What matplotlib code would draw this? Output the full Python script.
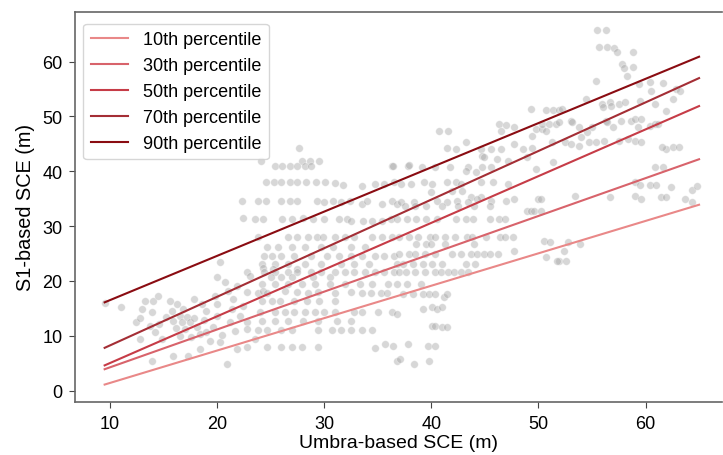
import matplotlib
matplotlib.use("Agg")
import matplotlib.pyplot as plt

plt.rcParams['font.family'] = ['Liberation Sans', 'DejaVu Sans']

# ---- scatter data ----
left_x = [9.5, 11, 12.4, 12.8, 13, 13.3, 13.7, 13.9, 13.9, 14, 14.2, 14.5, 14.9, 15.6, 15.8, 15.9, 15.9,
          16.3, 16.5, 16.7, 17, 17.2, 17.3, 17.5, 17.8, 18.1, 18.4, 18.4, 19, 19, 19.3, 19.6, 20, 20, 20.3,
          20.3, 20.7, 20.9, 21.2, 21.4, 21.5, 21.7, 21.9, 21.9, 22.1, 22.3, 22.4, 22.4, 22.8, 22.8, 22.8,
          22.8, 22.8, 23.1, 23.5, 23.5, 23.8, 16.8, 17.8, 18.8, 15.2, 16.2, 14.6, 19.8, 18.6, 12.8, 21,
          20.5, 16.5, 17.6, 20]
left_y = [16, 15.2, 12.5, 9.4, 14.9, 16.4, 11.8, 14.3, 5.4, 16.4, 10.7, 17.3, 9.4, 16.4, 14.6, 12.7, 6.3,
          15.8, 13.6, 12.5, 11.3, 13.4, 6.3, 12.5, 16.7, 11.6, 10.3, 7.6, 14.6, 10.7, 9.1, 11.6, 13.6, 20.7,
          8.8, 23.4, 19.8, 4.9, 12.5, 14.9, 16.7, 10.9, 19.1, 7.6, 13.6, 34.6, 31.5, 15.5, 18, 12.5, 11.3,
          8, 21.6, 20.9, 9.4, 31.3, 34.6, 14.8, 13.2, 12.8, 13.5, 11.5, 12.2, 17.2, 15.8, 13.2, 18.2,
          10.2, 10, 9.8, 15.8]

mid_x = [27.6, 24.1, 27.9, 28.7, 29.5,
         25.4, 26.1, 26.8, 27.5, 28.2, 28.8, 36.3,
         24.6, 25.3, 26.0, 26.8, 27.5, 28.3, 29.2, 30.1, 31.0, 31.8, 33.5, 34.7, 35.6, 36.5,
         24.6, 26.0, 26.8, 27.5, 29.3, 30.0, 30.8, 31.6, 32.4, 33.5, 34.0, 35.4, 36.3, 36.8,
         24.3, 26.1, 27.0, 28.0, 29.0, 30.0, 31.4, 32.1, 32.5, 33.6, 34.5, 35.4, 36.2,
         23.8, 26.6, 27.5, 28.5, 29.3, 29.9, 31.0, 31.9, 32.8, 34.5, 35.4, 36.3,
         24.7, 25.7, 27.0, 28.2, 29.7, 30.8, 32.5, 33.8,
         24.4, 25.1, 26.0, 27.2, 28.8, 30.3, 31.4, 32.5, 33.5, 34.7, 35.6, 36.5,
         24.2, 25.4, 26.6, 28.2, 29.7, 31.6, 32.8, 34.2,
         24.3, 25.2, 27.5,
         24.4, 25.4, 26.6, 27.5, 28.8, 29.7, 31.0, 31.9, 32.8, 33.8, 34.7, 35.6, 36.5,
         25.0, 26.0, 27.0, 29.0, 30.5,
         24.2, 25.4, 26.6, 27.9, 29.1, 30.5, 31.9, 33.3, 34.5, 36.0,
         23.8, 24.3, 24.7, 26.3, 27.5, 28.5, 29.4, 31.0, 32.5, 33.5, 34.4, 35.3, 35.9,
         24.2, 25.1, 25.9, 27.2, 28.4, 29.5, 31.0,
         24.0, 25.4, 26.3, 27.2, 28.2, 29.1, 30.0, 31.0, 32.8, 33.5, 35.0, 36.3,
         24.2, 25.4, 26.6, 28.0, 29.4, 31.2, 32.5,
         23.8, 24.7, 26.0, 27.0, 29.4, 30.7, 31.6, 32.5, 33.5, 34.5,
         24.7, 26.0, 27.0, 27.9, 29.4, 34.7, 35.7, 36.4,
         36.8]
mid_y = [44.2, 41.8, 41.8, 41.8, 41.8,
         41.0, 41.0, 41.0, 41.0, 41.0, 41.0, 41.0,
         38.0, 38.0, 38.0, 38.0, 38.0, 38.0, 38.0, 38.0, 37.8, 37.5, 37.3, 37.7, 37.7, 38.0,
         34.6, 34.6, 34.6, 34.6, 34.6, 34.4, 34.6, 34.4, 34.6, 34.1, 34.6, 34.1, 34.6, 34.1,
         31.3, 31.3, 31.3, 31.5, 31.3, 31.3, 31.3, 31.3, 31.0, 31.0, 31.0, 31.0, 31.3,
         28.0, 28.0, 28.0, 28.0, 28.0, 28.0, 28.0, 28.0, 28.0, 28.0, 28.0, 28.0,
         26.2, 26.2, 26.2, 26.2, 26.2, 26.2, 26.2, 26.2,
         24.6, 24.6, 24.6, 24.6, 24.6, 24.6, 24.6, 24.6, 24.6, 24.6, 24.6, 24.6,
         23.1, 23.1, 23.1, 23.1, 23.1, 23.1, 23.1, 23.1,
         22.4, 22.2, 22.2,
         21.6, 21.6, 21.6, 21.6, 21.6, 21.6, 21.6, 21.6, 21.6, 21.6, 21.6, 21.6, 21.6,
         20.7, 20.7, 20.7, 20.7, 20.7,
         19.5, 19.5, 19.5, 19.5, 19.5, 19.5, 19.5, 19.5, 19.5, 19.5,
         17.8, 18.2, 17.8, 18.2, 18.0, 17.8, 18.0, 17.8, 18.0, 17.8, 17.8, 17.8, 17.8,
         16.4, 16.4, 16.4, 16.4, 16.4, 16.4, 16.4,
         14.4, 14.4, 14.4, 14.4, 14.4, 14.4, 14.4, 14.4, 14.4, 14.4, 14.4, 14.4,
         12.7, 12.7, 12.7, 12.7, 12.7, 12.7, 12.7,
         11.0, 11.0, 11.0, 11.0, 11.0, 11.0, 11.0, 11.0, 11.0, 11.0,
         8.0, 8.0, 8.0, 8.0, 8.0, 7.8, 8.5, 8.1,
         5.4]

high_x = [49.3,
          46.3, 47.0, 47.7,
          40.7, 41.6, 46.5, 49.4, 49.8, 50.3,
          43.2, 47.7,
          41.5, 42.3, 44.6, 45.6, 46.5, 48.6, 49.4,
          44.7, 44.9, 46.1, 47.2, 48.9,
          36.4, 37.8, 37.9, 39.1, 40.3, 41.7, 43.4, 44.7, 45.6,
          43.2, 44.2, 49.8,
          37.2, 38.1, 39.3, 40.1, 41.5, 42.3, 42.8, 44.6, 45.8, 47.2,
          40.0, 41.9, 42.9,
          43.7, 44.6, 47.7, 50.0,
          37.2, 38.4, 40.5, 41.5, 42.4, 43.4, 44.3, 45.6, 47.0,
          48.9, 49.3, 49.6,
          37.5, 38.5, 39.5, 41.0, 42.5, 44.0, 45.5,
          36.8, 37.7, 38.6, 39.5, 40.5, 42.3, 43.2, 43.9, 45.5, 46.3, 46.9,
          37.0, 37.9, 38.8, 39.9, 40.3, 41.3, 42.2, 43.3, 43.8, 45.1, 46.4, 46.9, 47.6,
          38.6, 39.5, 40.0, 41.3, 44.0,
          37.0, 37.9, 38.5, 39.4, 40.3, 41.9, 42.8, 43.7, 44.3, 44.9, 45.5, 46.2, 47.7,
          36.8, 37.4, 38.3, 39.2, 40.1, 41.0, 43.2, 44.1,
          37.0, 37.6, 38.5, 39.4, 40.3, 40.9, 41.6, 42.1, 42.8, 43.4,
          36.8, 37.7, 39.0,
          37.4, 38.3, 39.2, 39.8, 40.3, 41.2, 41.5,
          39.2, 40.1, 40.5, 41.0,
          36.8,
          40.1, 40.3, 41.0, 41.5,
          37.8, 39.7, 40.3,
          37.1, 38.4, 39.8]
high_y = [51.3,
          48.7, 48.5, 48.1,
          47.4, 47.4, 47.4, 46.5, 47.7, 47.7,
          45.4, 45.0,
          44.2, 44.1, 44.1, 44.1, 44.1, 44.1, 44.2,
          42.8, 42.6, 42.3, 41.9, 42.6,
          41.0, 41.0, 41.2, 40.8, 40.8, 40.8, 40.8, 40.8, 40.8,
          40.1, 39.9, 40.4,
          37.7, 37.7, 38.0, 37.7, 38.0, 38.0, 37.7, 38.0, 38.0, 37.7,
          36.2, 36.4, 36.4,
          35.3, 35.3, 35.0, 35.0,
          34.4, 34.4, 34.6, 34.4, 34.6, 34.4, 35.0, 34.6, 34.6,
          32.8, 32.8, 32.8,
          33.7, 33.7, 33.7, 33.7, 33.7, 33.7, 33.7,
          31.3, 31.3, 31.3, 31.3, 31.3, 31.3, 31.3, 31.3, 31.3, 31.3, 31.3,
          28.0, 28.0, 28.0, 28.0, 28.0, 28.0, 28.0, 28.0, 28.0, 28.0, 28.0, 28.0, 28.0,
          26.8, 26.8, 26.8, 26.8, 26.8,
          24.9, 24.9, 24.9, 24.9, 24.9, 24.9, 24.9, 24.9, 24.9, 24.9, 24.9, 24.9, 25.5,
          23.1, 23.1, 23.1, 23.1, 23.1, 23.1, 23.1, 23.1,
          21.6, 21.6, 21.6, 21.6, 21.6, 21.6, 21.6, 21.6, 21.6, 21.6,
          19.5, 19.5, 19.5,
          17.6, 17.6, 17.6, 17.6, 17.6, 17.1, 17.6,
          14.9, 15.2, 14.9, 15.2,
          14.0,
          11.8, 11.8, 11.6, 11.6,
          8.5, 8.1, 8.1,
          5.8, 4.9, 5.4]

right_x = [55.5, 56.3, 55.7, 56.4, 57.1, 57.3, 58.8, 57.8, 58.0, 58.8, 58.3, 55.4, 59.4, 60.4, 61.6,
           60.5, 62.8, 63.2, 54.4, 55.9, 56.7, 57.5, 58.1, 59.5, 60.9, 61.9, 62.6, 50.7, 51.4, 51.9,
           52.2, 53.0, 56.3, 57.7, 58.6, 50.3, 51.0, 51.6, 53.8, 55.0, 57.0, 59.3, 60.4, 60.9, 56.0,
           56.8, 59.0, 59.6, 61.2, 54.5, 56.4, 50.7, 51.3, 52.5, 53.0, 53.8, 54.0, 54.7, 55.4, 56.1,
           57.5, 58.4, 59.0, 59.6, 61.9, 62.6, 63.1, 61.5, 51.4, 60.9, 61.6, 59.0, 59.5, 60.4, 61.0,
           62.4, 64.3, 64.8, 53.4, 56.7, 59.0, 59.6, 61.4, 61.9, 63.7, 64.3, 50.2, 50.2, 50.5, 51.1,
           52.8, 53.9, 52.4, 50.7, 51.9, 52.6, 51.7, 53.1, 51.9]
right_y = [65.8, 65.8, 62.7, 62.7, 62.5, 61.8, 61.8, 59.6, 58.9, 59.0, 57.4, 56.5, 55.9, 56.3, 56.1,
           54.7, 55.0, 54.7, 53.2, 52.3, 52.6, 52.3, 52.6, 52.9, 52.3, 51.0, 53.2, 51.2, 51.2, 51.2,
           51.4, 49.2, 49.2, 49.2, 49.2, 48.7, 48.7, 48.7, 48.1, 48.1, 48.1, 48.1, 48.3, 48.7, 51.7,
           51.9, 49.6, 49.6, 48.7, 47.2, 49.0, 47.4, 45.4, 45.4, 45.0, 44.6, 46.3, 45.4, 45.4, 45.6,
           45.6, 45.9, 45.6, 45.4, 44.1, 44.4, 44.4, 44.4, 41.7, 40.8, 40.8, 38.0, 37.5, 37.5, 37.5,
           37.2, 36.6, 37.3, 35.5, 35.3, 35.5, 35.0, 35.3, 35.3, 35.0, 34.4, 35.0, 32.8, 27.3, 27.1,
           27.1, 26.8, 25.5, 24.4, 23.7, 23.7, 23.7, 49.0, 49.0]

# ---- quantile regression lines (endpoints) ----
line_labels = ["10th percentile", "30th percentile", "50th percentile", "70th percentile", "90th percentile"]
line_x = [9.5, 65.0]
line_start = [1.1, 3.9, 4.6, 7.8, 16.1]
line_end = [33.9, 42.2, 51.9, 57.0, 60.9]
line_colors = ["#e98888", "#d8636b", "#c63c47", "#a42e35", "#8a0c12"]

fig = plt.figure(figsize=(7.23, 4.56), dpi=100)
ax = fig.add_axes([0.104, 0.116, 0.894, 0.856])

xs = left_x + mid_x + high_x + right_x
ys = left_y + mid_y + high_y + right_y
ax.scatter(xs, ys, s=30, color="#a8a8a8", alpha=0.45, edgecolors="white", linewidths=0.5, zorder=1)

for lab, y0, y1, c in zip(line_labels, line_start, line_end, line_colors):
    ax.plot(line_x, [y0, y1], color=c, lw=1.5, label=lab, zorder=2)

ax.set_xlim(6.75, 67.1)
ax.set_ylim(-2.1, 69.1)
ax.set_xticks([10, 20, 30, 40, 50, 60])
ax.set_yticks([0, 10, 20, 30, 40, 50, 60])
ax.tick_params(labelsize=13, length=4.5, pad=4.5, color="#444444")
for side in ["left", "bottom", "top"]:
    ax.spines[side].set_color("#666666")
    ax.spines[side].set_linewidth(1.2)
ax.spines["right"].set_visible(False)

ax.set_xlabel("Umbra-based SCE (m)", fontsize=14, labelpad=2)
ax.set_ylabel("S1-based SCE (m)", fontsize=14.3, labelpad=5)

leg = ax.legend(loc="upper left", bbox_to_anchor=(0.0, 0.99), fontsize=13, frameon=True,
                handlelength=2.1, handletextpad=0.8, borderaxespad=0.45, labelspacing=0.5)
leg.get_frame().set_edgecolor("#cccccc")

fig.savefig("out.png", dpi=100)
